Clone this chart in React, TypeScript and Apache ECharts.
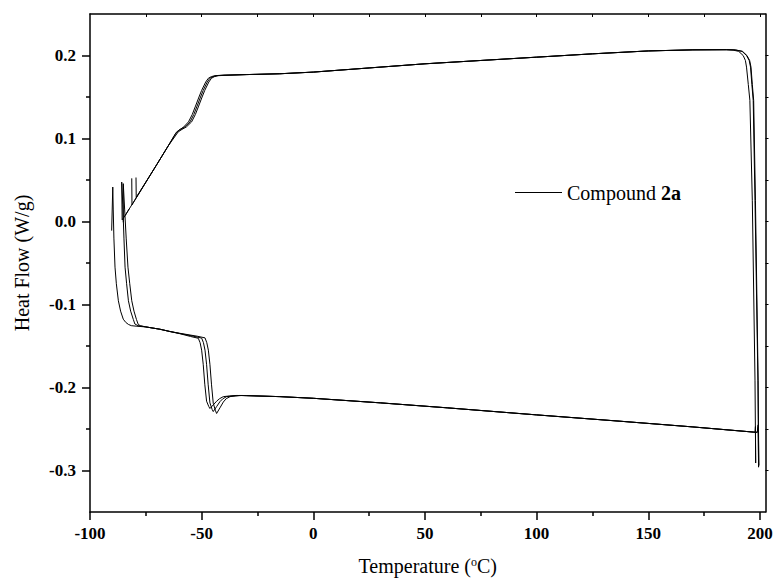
import React, { useEffect, useRef } from "react";
import * as echarts from "echarts";

// Temperature axis (°C)
const xMajorTicks = [-100, -50, 0, 50, 100, 150, 200];
const xMinorTicks = [-75, -25, 25, 75, 125, 175];
const xTopTicks = [-75, -50, -25, 0, 25, 50, 75, 100, 125, 150, 175, 200];
// Heat flow axis (W/g)
const yMajorTicks = [-0.3, -0.2, -0.1, 0, 0.1, 0.2];
const yMinorTicks = [-0.25, -0.15, -0.05, 0.05, 0.15];
const yRightTicks = [-0.3, -0.25, -0.2, -0.15, -0.1, -0.05, 0, 0.05, 0.1, 0.15, 0.2];

// Heating traces: start transient, glass-transition step
const heatingRise1 = [
  [-81.3, 0.052], [-81.2, 0.02], [-70, 0.069], [-65, 0.091], [-61.9, 0.105],
  [-60.2, 0.11], [-58.2, 0.1135], [-55.9, 0.12], [-54.2, 0.129], [-52.9, 0.138],
  [-51.2, 0.15], [-50, 0.158], [-48.2, 0.168], [-47, 0.1726], [-45.7, 0.1745],
  [-44, 0.1757], [-40, 0.1764],
];
const heatingRise2 = [
  [-79.4, 0.053], [-79.3, 0.029], [-70, 0.069], [-65, 0.091], [-61.2, 0.108],
  [-59.5, 0.111], [-57.5, 0.114], [-55.2, 0.12], [-53.5, 0.129], [-52.2, 0.138],
  [-50.5, 0.15], [-49.3, 0.158], [-47.5, 0.168], [-46.3, 0.1726], [-45, 0.1745],
  [-43.3, 0.1757], [-40, 0.1762],
];
const heatingRise3 = [
  [-84.3, 0.007], [-70, 0.069], [-65, 0.091], [-60.5, 0.108], [-58.8, 0.111],
  [-56.8, 0.114], [-54.5, 0.12], [-52.8, 0.129], [-51.5, 0.138], [-49.8, 0.15],
  [-48.6, 0.158], [-46.8, 0.168], [-45.6, 0.1726], [-44.3, 0.1745], [-42.6, 0.1757],
  [-40, 0.176],
];
const heatingPlateau = [
  [-30, 0.177], [-15, 0.178], [0, 0.18], [25, 0.185], [50, 0.19], [75, 0.194],
  [100, 0.198], [125, 0.202], [150, 0.2055], [170, 0.2068], [185, 0.207],
];
// End of heating: switch to cooling near 200 °C
const heatingDrop1 = [
  [188, 0.2065], [190.5, 0.205], [192.5, 0.2], [193.5, 0.194], [194, 0.186],
  [194.8, 0.165], [195.5, 0.146], [196.6, 0.025], [197.8, -0.192], [198.1, -0.291],
  [198.0, -0.247], [197.8, -0.254],
];
const heatingDrop2 = [
  [189, 0.2067], [192, 0.205], [194, 0.2], [195.2, 0.194], [195.8, 0.186],
  [196.4, 0.165], [197, 0.146], [197.8, 0.025], [199.1, -0.192], [199.4, -0.296],
  [199.2, -0.245], [198.8, -0.254],
];
const heatingDrop3 = [
  [189, 0.2067], [192.2, 0.205], [194.2, 0.2], [195.4, 0.194], [196, 0.186],
  [196.6, 0.165], [197.2, 0.146], [198, 0.025], [199.2, -0.192], [199.5, -0.294],
  [199.3, -0.247], [198.8, -0.254],
];
// Cooling traces
const coolingBaseline = [
  [197, -0.2537], [170, -0.2475], [137.3, -0.2406], [100, -0.233], [60, -0.2245],
  [30, -0.2185], [0, -0.213], [-15, -0.211], [-30, -0.2098],
];
const coolingDip1 = [
  [-34.3, -0.2096], [-37.5, -0.2102], [-40.3, -0.211], [-42, -0.2135], [-43.3, -0.2165],
  [-44.8, -0.221], [-46.3, -0.2253], [-46.8, -0.223], [-47.8, -0.2165], [-48.6, -0.196],
  [-49.3, -0.172], [-50, -0.155], [-50.7, -0.146], [-51.5, -0.1407], [-55, -0.1385],
  [-60, -0.135], [-64.2, -0.1326],
];
const coolingDip2 = [
  [-33, -0.2096], [-36, -0.2102], [-38.8, -0.211], [-40.5, -0.2135], [-41.8, -0.217],
  [-43.3, -0.223], [-44.8, -0.229], [-45.3, -0.2265], [-46.3, -0.2185], [-47.1, -0.196],
  [-47.8, -0.172], [-48.5, -0.155], [-49.2, -0.146], [-50, -0.1405], [-53.5, -0.1383],
  [-60, -0.1348], [-64.2, -0.1325],
];
const coolingDip3 = [
  [-32, -0.2096], [-35, -0.2102], [-37.3, -0.211], [-39, -0.2135], [-40.3, -0.2175],
  [-41.8, -0.2245], [-43.3, -0.2313], [-43.8, -0.228], [-44.8, -0.219], [-45.6, -0.196],
  [-46.3, -0.172], [-47, -0.155], [-47.7, -0.146], [-48.5, -0.1402], [-52, -0.1382],
  [-60, -0.1346], [-64.2, -0.1325],
];
const coolingShelf = [[-68.7, -0.1298], [-75, -0.127]];
// End of cooling: return transient near -90 °C
const coolingEnd1 = [
  [-79, -0.1262], [-81.5, -0.1255], [-82.8, -0.124], [-84, -0.1215], [-85.1, -0.1177],
  [-86.3, -0.108], [-87.3, -0.0955], [-88.2, -0.075], [-88.8, -0.055], [-89.3, -0.02],
  [-89.6, 0.015], [-89.8, 0.0415], [-90.3, -0.011],
];
const coolingEnd2 = [
  [-78.5, -0.1255], [-79.9, -0.1235], [-80.6, -0.118], [-81.8, -0.108], [-82.8, -0.0955],
  [-83.6, -0.075], [-84.3, -0.055], [-84.8, -0.02], [-85.3, 0.02], [-85.8, 0.0475],
  [-85.6, 0.002], [-84.3, 0.007], [-82.5, 0.015],
];
const coolingEnd3 = [
  [-77.5, -0.1255], [-78.4, -0.124], [-79.2, -0.118], [-80.3, -0.108], [-81.3, -0.0955],
  [-82.2, -0.075], [-83, -0.055], [-83.8, -0.02], [-84.5, 0.015], [-85.1, 0.0456],
  [-85.1, -0.001],
];

const cycles = [
  [heatingRise1, heatingPlateau, heatingDrop1, coolingBaseline, coolingDip1, coolingShelf, coolingEnd1],
  [heatingRise2, heatingPlateau, heatingDrop2, coolingBaseline, coolingDip2, coolingShelf, coolingEnd2],
  [heatingRise3, heatingPlateau, heatingDrop3, coolingBaseline, coolingDip3, coolingShelf, coolingEnd3],
];

const seriesName = "Compound 2a";
const FONT = "'Times New Roman', 'Liberation Serif', serif";
const X_MIN = -100;
const X_MAX = 202.5;
const Y_MIN = -0.35;
const Y_MAX = 0.25;

const black = "#000";
const axisLine = { show: true, onZero: false, lineStyle: { color: black, width: 1.5 } };
const hiddenLine = { show: false, onZero: false };
const tickLabel = { color: black, fontFamily: FONT, fontSize: 17, fontWeight: "bold" };

export default function App() {
  const ref = useRef<HTMLDivElement>(null);

  useEffect(() => {
    if (!ref.current) return;
    const chart = echarts.init(ref.current, null, { renderer: "svg" });

    const option = {
      animation: false,
      backgroundColor: "#fff",
      grid: { left: 90, right: 11.5, top: 14, bottom: 72, containLabel: false, outerBoundsMode: "none" },
      legend: {
        left: 510,
        top: 177.5,
        icon: "rect",
        itemWidth: 47,
        itemHeight: 1.2,
        selectedMode: false,
        data: [seriesName],
        formatter: () => "Compound {b|2a}",
        textStyle: {
          color: black,
          fontFamily: FONT,
          fontSize: 20,
          rich: { b: { color: black, fontFamily: FONT, fontSize: 20, fontWeight: "bold" } },
        },
      },
      xAxis: [
        {
          type: "value",
          position: "bottom",
          min: X_MIN,
          max: X_MAX,
          axisLine,
          axisTick: { show: true, inside: false, length: 8, customValues: xMajorTicks, lineStyle: { color: black, width: 1.5 } },
          axisLabel: { ...tickLabel, margin: 13, customValues: xMajorTicks },
          splitLine: { show: false },
          name: "Temperature ({sup|o}C)",
          nameLocation: "middle",
          nameGap: 44,
          nameTextStyle: {
            color: black,
            fontFamily: FONT,
            fontSize: 20,
            rich: { sup: { color: black, fontFamily: FONT, fontSize: 12, verticalAlign: "top", lineHeight: 20 } },
          },
        },
        {
          type: "value",
          position: "bottom",
          min: X_MIN,
          max: X_MAX,
          axisLine: hiddenLine,
          axisTick: { show: true, inside: false, length: 4, customValues: xMinorTicks, lineStyle: { color: black, width: 1.5 } },
          axisLabel: { show: false },
          splitLine: { show: false },
        },
        {
          type: "value",
          position: "top",
          min: X_MIN,
          max: X_MAX,
          axisLine,
          axisTick: { show: true, inside: true, length: 3, customValues: xTopTicks, lineStyle: { color: black, width: 1 } },
          axisLabel: { show: false },
          splitLine: { show: false },
        },
      ],
      yAxis: [
        {
          type: "value",
          position: "left",
          min: Y_MIN,
          max: Y_MAX,
          axisLine,
          axisTick: { show: true, inside: false, length: 8, customValues: yMajorTicks, lineStyle: { color: black, width: 1.5 } },
          axisLabel: { ...tickLabel, margin: 14, customValues: yMajorTicks, formatter: (v: number) => v.toFixed(1) },
          splitLine: { show: false },
          name: "Heat Flow (W/g)",
          nameLocation: "middle",
          nameGap: 58,
          nameTextStyle: { color: black, fontFamily: FONT, fontSize: 20 },
        },
        {
          type: "value",
          position: "left",
          min: Y_MIN,
          max: Y_MAX,
          axisLine: hiddenLine,
          axisTick: { show: true, inside: false, length: 4, customValues: yMinorTicks, lineStyle: { color: black, width: 1.5 } },
          axisLabel: { show: false },
          splitLine: { show: false },
        },
        {
          type: "value",
          position: "right",
          min: Y_MIN,
          max: Y_MAX,
          axisLine,
          axisTick: { show: true, inside: false, length: 3, customValues: yRightTicks, lineStyle: { color: black, width: 1 } },
          axisLabel: { show: false },
          splitLine: { show: false },
        },
      ],
      series: cycles.map((parts) => ({
        name: seriesName,
        type: "line",
        xAxisIndex: 0,
        yAxisIndex: 0,
        data: parts.flat(),
        showSymbol: false,
        symbol: "none",
        smooth: false,
        clip: false,
        lineStyle: { color: black, width: 1 },
        itemStyle: { color: black },
        emphasis: { disabled: true },
      })),
    };

    chart.setOption(option as any);
    return () => chart.dispose();
  }, []);

  return (
    <div
      ref={ref}
      style={{ position: "absolute", left: 0, top: 0, width: 777, height: 584, background: "#fff" }}
    />
  );
}
